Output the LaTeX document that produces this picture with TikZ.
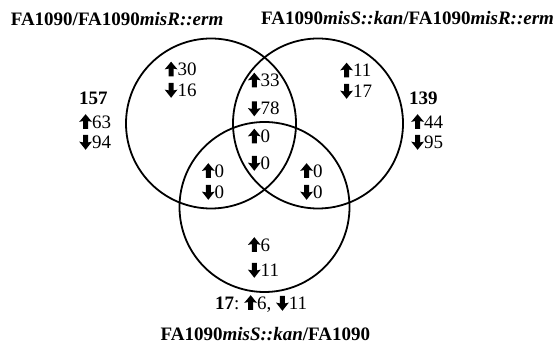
\documentclass[tikz,border=0pt]{standalone}
\usepackage{fontspec}
\setmainfont{Liberation Serif}
\newcommand\UA{\tikz[baseline=0pt,x=1pt,y=1pt]\fill (3.9,-0.3) -- (3.9,7.4) -- (0,6.6) -- (6.4,14.3) -- (12.8,6.6) -- (8.9,7.4) -- (8.9,-0.3) -- cycle;}
\newcommand\DA{\tikz[baseline=0pt,x=1pt,y=1pt]\fill (3.9,13.6) -- (3.9,6.1) -- (0,6.9) -- (6.4,-1.3) -- (12.8,6.9) -- (8.9,6.1) -- (8.9,13.6) -- cycle;}
\tikzset{
  venn/.style={circle, draw, line width=1.8pt, minimum size=170pt, inner sep=0pt},
  cnt/.style={anchor=base west, inner sep=0pt, font=\fontsize{19}{21}\selectfont},
  ttl/.style={anchor=base west, inner sep=0pt, font=\fontsize{19}{21}\selectfont\bfseries}
}
\begin{document}
\begin{tikzpicture}[x=1pt,y=-1pt]
\useasboundingbox (0,0) rectangle (553,344);
\node[venn] (L) at (211,123.5) {};
\node[venn] (R) at (318,123.5) {};
\node[venn] (B) at (264.5,207) {};
% titles
\node[ttl] (t1) at (10.6,26) {FA1090/FA1090\textit{misR::erm}};
\node[ttl] (t2) at (261,25) {FA1090\textit{misS::kan}/FA1090\textit{misR::erm}};
\node[ttl] (t3) at (160.5,340) {FA1090\textit{misS::kan}/FA1090};
% left only
\node[cnt] (l1) at (164.5,76) {\UA30};
\node[cnt] (l2) at (164.5,96.5) {\DA16};
% right only
\node[cnt] (r1) at (340,77) {\UA11};
\node[cnt] (r2) at (340,97.5) {\DA17};
% L and R
\node[cnt] (lr1) at (247.7,87) {\UA33};
\node[cnt] (lr2) at (247.7,115) {\DA78};
% center
\node[cnt] (c1) at (247.7,143) {\UA0};
\node[cnt] (c2) at (247.7,169.5) {\DA0};
% L and B
\node[cnt] (lb1) at (201.7,177.5) {\UA0};
\node[cnt] (lb2) at (201.7,198.5) {\DA0};
% R and B
\node[cnt] (rb1) at (300,177.5) {\UA0};
\node[cnt] (rb2) at (300,198.5) {\DA0};
% bottom only
\node[cnt] (b1) at (247.7,251.5) {\UA6};
\node[cnt] (b2) at (247.7,276.5) {\DA11};
% totals
\node[cnt] (s1) at (79,105) {\textbf{157}};
\node[cnt] (s2) at (79,128.5) {\UA63};
\node[cnt] (s3) at (79,148.5) {\DA94};
\node[cnt] (q1) at (409,105) {\textbf{139}};
\node[cnt] (q2) at (411,128.5) {\UA44};
\node[cnt] (q3) at (411,148.5) {\DA95};
\node[cnt] (p1) at (215,309.5) {\textbf{17}:\ \UA6,\ \DA11};
\end{tikzpicture}
\end{document}
